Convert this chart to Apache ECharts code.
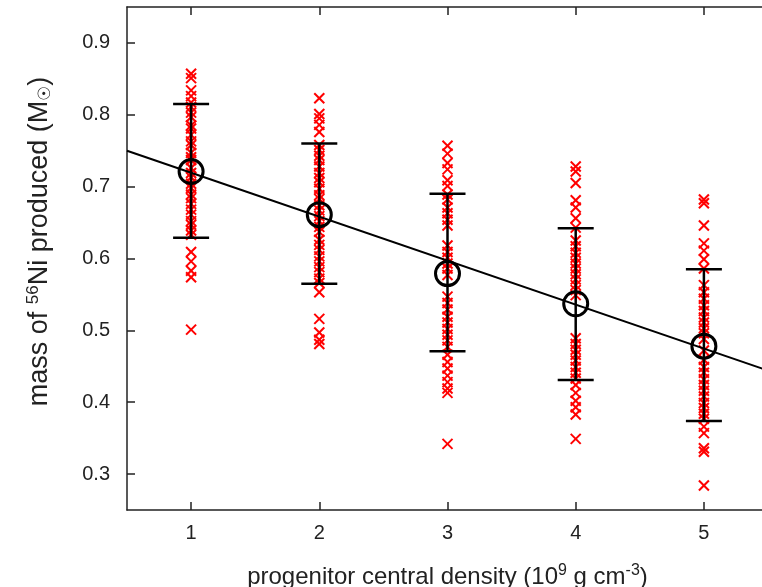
<!DOCTYPE html>
<html>
<head>
<meta charset="utf-8">
<script src="https://cdn.jsdelivr.net/npm/echarts@6/dist/echarts.min.js"></script>
<style>html,body{margin:0;padding:0;background:#fff}#c{width:762px;height:587px}</style>
</head>
<body>
<div id="c"></div>
<script>
// ---- data ----
var densities = [1, 2, 3, 4, 5];
var col1 = [0.857, 0.851, 0.834, 0.826, 0.817, 0.811, 0.803, 0.797, 0.785, 0.781, 0.772, 0.763, 0.758, 0.747, 0.741, 0.737, 0.726, 0.719, 0.713, 0.704, 0.698, 0.689, 0.684, 0.676, 0.668, 0.661, 0.652, 0.647, 0.639, 0.633, 0.609, 0.596, 0.583, 0.574, 0.501];
var col2 = [0.823, 0.801, 0.795, 0.786, 0.776, 0.758, 0.751, 0.743, 0.737, 0.728, 0.719, 0.712, 0.706, 0.697, 0.688, 0.683, 0.674, 0.667, 0.659, 0.652, 0.644, 0.637, 0.626, 0.619, 0.612, 0.603, 0.596, 0.588, 0.581, 0.572, 0.566, 0.553, 0.516, 0.497, 0.487, 0.481];
var col3 = [0.757, 0.746, 0.733, 0.724, 0.709, 0.701, 0.689, 0.682, 0.671, 0.663, 0.654, 0.646, 0.618, 0.609, 0.601, 0.593, 0.586, 0.577, 0.547, 0.538, 0.529, 0.519, 0.511, 0.502, 0.494, 0.486, 0.477, 0.466, 0.456, 0.447, 0.437, 0.428, 0.419, 0.413, 0.342];
var col4 = [0.728, 0.721, 0.705, 0.681, 0.671, 0.656, 0.643, 0.625, 0.617, 0.608, 0.601, 0.593, 0.586, 0.578, 0.571, 0.563, 0.556, 0.549, 0.489, 0.481, 0.473, 0.466, 0.458, 0.449, 0.441, 0.433, 0.424, 0.413, 0.402, 0.393, 0.383, 0.349];
var col5 = [0.682, 0.677, 0.646, 0.621, 0.611, 0.599, 0.586, 0.563, 0.553, 0.544, 0.535, 0.527, 0.518, 0.511, 0.503, 0.496, 0.488, 0.472, 0.459, 0.449, 0.441, 0.432, 0.424, 0.416, 0.408, 0.399, 0.392, 0.384, 0.377, 0.366, 0.357, 0.336, 0.331, 0.284];
var means = [0.721, 0.661, 0.579, 0.537, 0.478];
var errLow = [0.629, 0.565, 0.471, 0.431, 0.374];
var errHigh = [0.815, 0.760, 0.690, 0.642, 0.585];
var fitX = [0.5, 5.5];
var fitY = [0.750, 0.444];
var xTicks = [1, 2, 3, 4, 5];
var yTicks = [0.3, 0.4, 0.5, 0.6, 0.7, 0.8, 0.9];

// ---- build ----
var columns = [col1, col2, col3, col4, col5];
var crossData = [];
columns.forEach(function (col, i) {
  col.forEach(function (v) { crossData.push([densities[i], v]); });
});
var errData = densities.map(function (d, i) { return [d, errLow[i], errHigh[i]]; });
var meanData = densities.map(function (d, i) { return [d, means[i]]; });
var fitData = fitX.map(function (x, i) { return [x, fitY[i]]; });

var FONT = '"Liberation Sans", Arial, sans-serif';
var TXT = '#222';
var AX = { lineStyle: { color: '#222', width: 1.5 } };

var chart = echarts.init(document.getElementById('c'), null, { renderer: 'canvas' });
chart.setOption({
  animation: false,
  backgroundColor: '#fff',
  grid: { left: 127, top: 7, width: 641, height: 503, containLabel: false, outerBoundsMode: 'none' },
  xAxis: [{
    type: 'value', min: 0.5, max: 5.5, position: 'bottom',
    axisLine: AX, splitLine: { show: false },
    axisTick: { inside: true, length: 8, lineStyle: { color: '#222', width: 1.5 }, customValues: xTicks },
    axisLabel: { margin: 13, fontSize: 20, color: TXT, fontFamily: FONT, customValues: xTicks,
      formatter: function (v) { return String(v); } },
    name: 'progenitor central density (10{sup|9} g cm{sup|-3})',
    nameLocation: 'middle', nameGap: 53,
    nameTextStyle: { fontSize: 24, color: TXT, fontFamily: FONT,
      rich: { sup: { fontSize: 16, color: TXT, fontFamily: FONT, padding: [0, 0, 12, 0] } } }
  }, {
    type: 'value', min: 0.5, max: 5.5, position: 'top',
    axisLine: AX, splitLine: { show: false },
    axisTick: { inside: true, length: 8, lineStyle: { color: '#222', width: 1.5 }, customValues: xTicks },
    axisLabel: { show: false }
  }],
  yAxis: [{
    type: 'value', min: 0.25, max: 0.95, position: 'left',
    axisLine: AX, splitLine: { show: false },
    axisTick: { inside: true, length: 8, lineStyle: { color: '#222', width: 1.5 }, customValues: yTicks },
    axisLabel: { margin: 17, fontSize: 20, color: TXT, fontFamily: FONT, customValues: yTicks,
      formatter: function (v) { return v.toFixed(1); } },
    name: 'mass of {sup|56}Ni produced (M{sub|☉})',
    nameLocation: 'middle', nameGap: 72, nameRotate: 90,
    nameTextStyle: { fontSize: 27, color: TXT, fontFamily: FONT, padding: [0, 0, 0, 34],
      rich: {
        sup: { fontSize: 17, color: TXT, fontFamily: FONT, padding: [0, 0, 13, 0] },
        sub: { fontSize: 17, color: TXT, fontFamily: FONT, padding: [10, 0, 0, 0] }
      } }
  }],
  series: [{
    type: 'custom',
    data: crossData,
    clip: true,
    renderItem: function (params, api) {
      var p = api.coord([api.value(0), api.value(1)]);
      var s = 5;
      return {
        type: 'group',
        children: [
          { type: 'line', shape: { x1: p[0] - s, y1: p[1] - s, x2: p[0] + s, y2: p[1] + s },
            style: { stroke: '#ff0000', lineWidth: 2 } },
          { type: 'line', shape: { x1: p[0] - s, y1: p[1] + s, x2: p[0] + s, y2: p[1] - s },
            style: { stroke: '#ff0000', lineWidth: 2 } }
        ]
      };
    },
    z: 2
  }, {
    type: 'line',
    data: fitData,
    symbol: 'none',
    lineStyle: { color: '#000', width: 2 },
    z: 3
  }, {
    type: 'custom',
    data: errData,
    renderItem: function (params, api) {
      var lo = api.coord([api.value(0), api.value(1)]);
      var hi = api.coord([api.value(0), api.value(2)]);
      var w = 18;
      var st = { stroke: '#000', lineWidth: 2.5 };
      return {
        type: 'group',
        children: [
          { type: 'line', shape: { x1: lo[0], y1: lo[1], x2: hi[0], y2: hi[1] }, style: st },
          { type: 'line', shape: { x1: lo[0] - w, y1: lo[1], x2: lo[0] + w, y2: lo[1] }, style: st },
          { type: 'line', shape: { x1: hi[0] - w, y1: hi[1], x2: hi[0] + w, y2: hi[1] }, style: st }
        ]
      };
    },
    z: 4
  }, {
    type: 'custom',
    data: meanData,
    renderItem: function (params, api) {
      var p = api.coord([api.value(0), api.value(1)]);
      return { type: 'circle', shape: { cx: p[0], cy: p[1], r: 12 },
        style: { fill: 'none', stroke: '#000', lineWidth: 3 } };
    },
    z: 5
  }]
});
</script>
</body>
</html>
